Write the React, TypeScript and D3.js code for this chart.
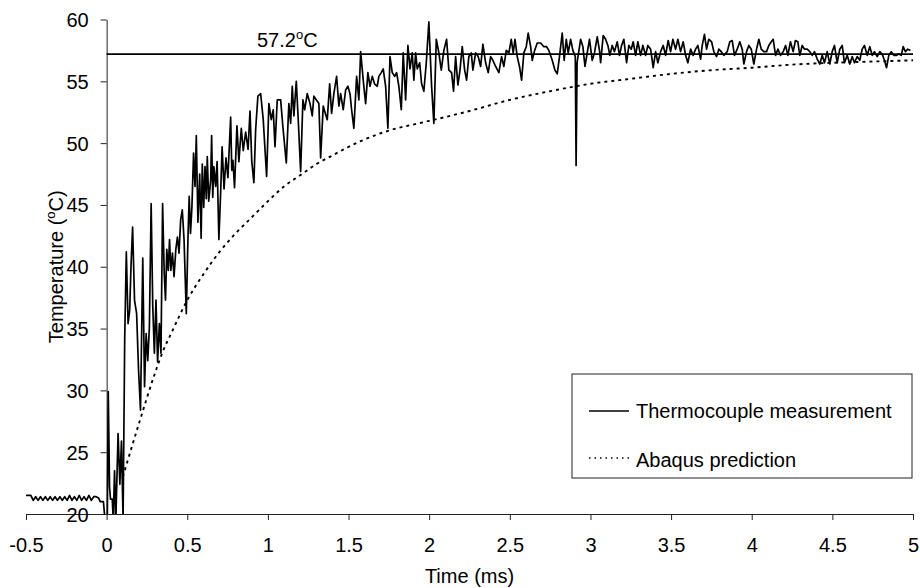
import React, { useEffect, useRef } from 'react'
import * as d3 from 'd3'

const xTicks = [-0.5, 0, 0.5, 1, 1.5, 2, 2.5, 3, 3.5, 4, 4.5, 5]
const yTicks = [20, 25, 30, 35, 40, 45, 50, 55, 60]
const steadyTemp = 57.2
const seriesNames = ['Thermocouple measurement', 'Abaqus prediction']

// [time (ms), temperature (C)]
const thermocouple: [number, number][] = [
  [-0.5, 21.5], [-0.47, 21.5], [-0.455, 21.1], [-0.44, 21.4], [-0.425, 21.1], [-0.41, 21.4],
  [-0.395, 21.1], [-0.38, 21.4], [-0.365, 21.1], [-0.35, 21.4], [-0.335, 21.1], [-0.32, 21.4],
  [-0.305, 21.1], [-0.29, 21.4], [-0.275, 21.1], [-0.26, 21.4], [-0.245, 21.1], [-0.23, 21.5],
  [-0.215, 21.1], [-0.2, 21.4], [-0.185, 21.1], [-0.17, 21.5], [-0.155, 21.1], [-0.14, 21.4],
  [-0.125, 21.1], [-0.11, 21.5], [-0.095, 21.1], [-0.08, 21.4], [-0.065, 21.4], [-0.05, 21.3],
  [-0.04, 21.0], [-0.02, 21.0], [-0.01, 19.5], [0.004, 19.5], [0.010, 29.9], [0.018, 22.2],
  [0.024, 21.2], [0.035, 21.2], [0.041, 19.5], [0.049, 23.5], [0.057, 19.5], [0.071, 26.5],
  [0.082, 22.4], [0.092, 25.9], [0.102, 19.5], [0.112, 34.1], [0.122, 41.2], [0.133, 35.4],
  [0.143, 36.5], [0.151, 40.0], [0.161, 43.2], [0.173, 37.3], [0.186, 36.2], [0.198, 31.6],
  [0.210, 28.4], [0.224, 40.7], [0.235, 30.3], [0.245, 34.6], [0.255, 32.4], [0.265, 35.1],
  [0.276, 45.1], [0.286, 36.8], [0.296, 33.0], [0.306, 37.3], [0.316, 32.3], [0.327, 35.4],
  [0.337, 33.0], [0.347, 45.1], [0.357, 39.5], [0.365, 37.3], [0.373, 41.4], [0.382, 39.7],
  [0.390, 42.2], [0.398, 39.7], [0.408, 41.1], [0.418, 39.2], [0.429, 41.4], [0.439, 42.4],
  [0.449, 41.1], [0.459, 43.8], [0.469, 44.6], [0.480, 42.2], [0.494, 36.2], [0.504, 42.2],
  [0.512, 45.7], [0.520, 42.7], [0.529, 44.9], [0.539, 49.2], [0.548, 46.5], [0.556, 50.6],
  [0.566, 43.6], [0.577, 47.5], [0.586, 42.3], [0.593, 48.3], [0.602, 44.8], [0.610, 48.1],
  [0.618, 45.5], [0.624, 48.9], [0.633, 45.3], [0.645, 47.0], [0.651, 50.6], [0.658, 45.6],
  [0.665, 48.1], [0.676, 46.5], [0.685, 48.5], [0.696, 42.2], [0.707, 46.0], [0.716, 49.7],
  [0.728, 46.3], [0.740, 48.8], [0.752, 47.2], [0.769, 52.1], [0.776, 47.8], [0.783, 48.6],
  [0.793, 46.4], [0.808, 51.4], [0.820, 48.5], [0.835, 51.2], [0.847, 49.4], [0.862, 50.9],
  [0.877, 49.5], [0.889, 52.6], [0.900, 48.5], [0.913, 46.8], [0.924, 51.1], [0.938, 53.8],
  [0.955, 54.0], [0.971, 51.9], [0.992, 47.3], [1.006, 53.2], [1.021, 51.9], [1.033, 52.7],
  [1.044, 49.7], [1.058, 53.5], [1.079, 53.5], [1.093, 51.3], [1.114, 48.4], [1.130, 53.2],
  [1.141, 51.6], [1.151, 54.6], [1.161, 52.2], [1.176, 55.0], [1.188, 51.9], [1.203, 47.7],
  [1.217, 53.5], [1.228, 52.7], [1.244, 54.0], [1.261, 53.2], [1.275, 52.2], [1.285, 53.8],
  [1.300, 53.5], [1.316, 53.2], [1.327, 48.8], [1.343, 53.0], [1.356, 52.4], [1.368, 51.9],
  [1.383, 54.8], [1.395, 52.4], [1.409, 54.0], [1.426, 55.4], [1.440, 53.0], [1.451, 54.0],
  [1.467, 52.7], [1.482, 54.3], [1.496, 54.6], [1.509, 54.0], [1.519, 52.7], [1.533, 51.2],
  [1.550, 55.4], [1.564, 53.5], [1.575, 57.4], [1.591, 55.1], [1.606, 53.2], [1.620, 55.7],
  [1.633, 54.6], [1.647, 55.4], [1.661, 54.8], [1.678, 54.6], [1.688, 55.4], [1.703, 55.7],
  [1.715, 56.0], [1.730, 54.6], [1.744, 51.2], [1.757, 57.0], [1.771, 55.7], [1.786, 55.4],
  [1.798, 55.7], [1.812, 54.6], [1.827, 52.7], [1.839, 57.3], [1.854, 53.5], [1.868, 57.9],
  [1.881, 56.0], [1.895, 57.3], [1.905, 55.1], [1.916, 57.3], [1.926, 56.0], [1.941, 56.5],
  [1.953, 54.8], [1.967, 54.2], [1.982, 56.5], [1.998, 59.8], [2.015, 54.6], [2.029, 51.6],
  [2.044, 58.4], [2.060, 57.3], [2.075, 55.9], [2.091, 57.5], [2.108, 58.4], [2.122, 55.9],
  [2.139, 55.7], [2.151, 54.2], [2.164, 57.0], [2.178, 54.7], [2.191, 55.9], [2.205, 57.8],
  [2.220, 55.9], [2.232, 55.1], [2.246, 57.0], [2.261, 57.3], [2.271, 55.9], [2.288, 57.3],
  [2.304, 57.0], [2.319, 56.2], [2.333, 58.0], [2.350, 56.5], [2.366, 55.7], [2.381, 57.0],
  [2.395, 56.7], [2.412, 56.2], [2.432, 55.7], [2.449, 57.0], [2.463, 56.2], [2.478, 57.5],
  [2.494, 57.3], [2.509, 58.4], [2.521, 57.3], [2.532, 58.4], [2.546, 57.0], [2.560, 56.2],
  [2.573, 55.1], [2.587, 57.3], [2.602, 57.8], [2.614, 58.9], [2.629, 57.8], [2.639, 56.7],
  [2.654, 57.5], [2.670, 58.1], [2.691, 58.1], [2.711, 57.8], [2.728, 57.8], [2.742, 57.5],
  [2.763, 56.7], [2.780, 55.9], [2.794, 55.6], [2.808, 57.0], [2.825, 58.9], [2.837, 56.7],
  [2.850, 58.4], [2.862, 57.3], [2.877, 58.4], [2.891, 57.5], [2.906, 57.0], [2.911, 48.2],
  [2.917, 56.5], [2.939, 58.4], [2.953, 57.8], [2.966, 56.2], [2.980, 57.3], [2.994, 58.4],
  [3.011, 56.7], [3.025, 57.3], [3.042, 58.6], [3.056, 57.5], [3.063, 56.5], [3.079, 58.7],
  [3.094, 58.4], [3.108, 57.9], [3.120, 57.1], [3.135, 57.9], [3.149, 57.4], [3.166, 58.2],
  [3.180, 57.1], [3.193, 57.9], [3.207, 58.4], [3.224, 56.5], [3.238, 57.9], [3.253, 57.6],
  [3.265, 58.2], [3.280, 57.1], [3.294, 58.2], [3.311, 57.1], [3.325, 57.9], [3.342, 57.1],
  [3.356, 57.9], [3.373, 57.6], [3.389, 56.1], [3.404, 57.4], [3.418, 56.5], [3.435, 57.4],
  [3.451, 57.9], [3.466, 57.1], [3.482, 58.3], [3.497, 57.4], [3.511, 58.4], [3.528, 57.6],
  [3.542, 58.4], [3.559, 57.4], [3.575, 58.2], [3.590, 57.1], [3.604, 56.5], [3.621, 57.6],
  [3.637, 57.1], [3.652, 57.6], [3.666, 57.9], [3.683, 56.8], [3.693, 57.9], [3.707, 58.8],
  [3.720, 57.6], [3.734, 58.4], [3.751, 58.2], [3.765, 57.4], [3.782, 57.0], [3.796, 57.6],
  [3.811, 57.4], [3.827, 57.1], [3.848, 57.4], [3.864, 58.2], [3.879, 58.3], [3.893, 57.1],
  [3.910, 57.6], [3.926, 58.2], [3.941, 57.6], [3.951, 56.4], [3.968, 57.4], [3.982, 57.9],
  [3.997, 57.6], [4.013, 56.4], [4.030, 57.6], [4.044, 58.4], [4.059, 57.6], [4.075, 57.4],
  [4.092, 57.4], [4.106, 57.9], [4.121, 58.2], [4.133, 58.4], [4.148, 57.1], [4.162, 57.6],
  [4.179, 57.1], [4.195, 57.4], [4.210, 57.9], [4.224, 57.1], [4.240, 58.2], [4.257, 57.4],
  [4.271, 58.3], [4.286, 58.2], [4.298, 57.1], [4.313, 57.9], [4.327, 57.6], [4.344, 57.6],
  [4.360, 57.4], [4.375, 57.1], [4.389, 57.4], [4.406, 56.8], [4.422, 56.4], [4.437, 57.1],
  [4.451, 56.5], [4.468, 57.4], [4.484, 56.4], [4.499, 57.4], [4.513, 57.9], [4.530, 56.5],
  [4.546, 57.6], [4.561, 57.9], [4.575, 56.5], [4.592, 57.1], [4.608, 56.4], [4.623, 57.0],
  [4.637, 56.5], [4.654, 57.0], [4.670, 56.7], [4.685, 57.6], [4.699, 57.9], [4.716, 57.1],
  [4.732, 57.8], [4.747, 57.1], [4.761, 57.4], [4.778, 57.0], [4.794, 57.4], [4.809, 57.2],
  [4.823, 56.7], [4.836, 56.1], [4.850, 57.1], [4.865, 57.4], [4.881, 57.1], [4.898, 57.1],
  [4.912, 57.2], [4.927, 57.1], [4.939, 57.8], [4.953, 57.4], [4.968, 57.6], [4.984, 57.5],
]

const abaqus: [number, number][] = [
  [0.1, 23.0], [0.2, 27.3], [0.3, 31.4], [0.35, 33.2], [0.4, 34.6], [0.5, 37.3], [0.6, 39.4],
  [0.7, 41.2], [0.8, 42.7], [0.9, 44.0], [1.0, 45.3], [1.1, 46.5], [1.2, 47.4], [1.3, 48.3],
  [1.4, 49.0], [1.5, 49.7], [1.6, 50.3], [1.7, 50.8], [1.8, 51.2], [1.9, 51.5], [2.0, 51.8],
  [2.25, 52.6], [2.5, 53.5], [2.75, 54.2], [3.0, 54.8], [3.25, 55.2], [3.5, 55.6], [3.75, 55.9],
  [4.0, 56.1], [4.25, 56.35], [4.5, 56.5], [4.75, 56.6], [5.0, 56.7],
]

const FONT = '"Liberation Sans", Arial, Helvetica, sans-serif'

function TempChart() {
  const ref = useRef<SVGSVGElement>(null)

  useEffect(() => {
    const svg = d3.select(ref.current)
    svg.selectAll('*').remove()

    const x = d3.scaleLinear().domain([-0.5, 5]).range([26, 913])
    const y = d3.scaleLinear().domain([20, 60]).range([514, 19.5])

    svg.append('defs').append('clipPath').attr('id', 'plot-clip')
      .append('rect')
      .attr('x', x(-0.5)).attr('y', y(60))
      .attr('width', x(5) - x(-0.5)).attr('height', y(20) - y(60))

    // x axis along T = 20
    const xAxis = svg.append('g')
      .attr('transform', `translate(0,${y(20)})`)
      .call(d3.axisBottom(x).tickValues(xTicks).tickSize(6).tickSizeOuter(0)
        .tickFormat(d => String(d)))
    xAxis.selectAll('text').attr('y', 38).attr('dy', 0)

    // y axis at t = 0
    const yAxis = svg.append('g')
      .attr('transform', `translate(${x(0)},0)`)
      .call(d3.axisLeft(y).tickValues(yTicks).tickSize(6).tickSizeOuter(0))
    yAxis.selectAll('text').attr('x', -18).attr('dy', '0.35em')

    svg.selectAll('.domain, .tick line').attr('stroke', '#222').attr('stroke-width', 1)
    svg.selectAll('.tick text')
      .attr('font-family', FONT).attr('font-size', 20).attr('fill', '#000')

    const plot = svg.append('g').attr('clip-path', 'url(#plot-clip)')
    const line = d3.line<[number, number]>().x(d => x(d[0])).y(d => y(d[1]))

    plot.append('path')
      .datum(abaqus)
      .attr('d', line.curve(d3.curveMonotoneX))
      .attr('fill', 'none').attr('stroke', '#000')
      .attr('stroke-width', 1.9).attr('stroke-dasharray', '3,4')

    plot.append('line')
      .attr('x1', x(0)).attr('x2', x(5))
      .attr('y1', y(steadyTemp)).attr('y2', y(steadyTemp))
      .attr('stroke', '#000').attr('stroke-width', 1.7)

    plot.append('path')
      .datum(thermocouple)
      .attr('d', d3.line<[number, number]>().x(d => x(d[0])).y(d => y(d[1])))
      .attr('fill', 'none').attr('stroke', '#000')
      .attr('stroke-width', 1.7).attr('stroke-linejoin', 'round')

    const label = svg.append('text')
      .attr('x', 257).attr('y', 47)
      .attr('font-family', FONT).attr('font-size', 20).attr('fill', '#000')
    label.append('tspan').text(steadyTemp.toFixed(1))
    label.append('tspan').attr('font-size', 13).attr('dy', -8).text('o')
    label.append('tspan').attr('dy', 8).text('C')

    svg.append('text')
      .attr('x', (x(-0.5) + x(5)) / 2).attr('y', 583)
      .attr('text-anchor', 'middle')
      .attr('font-family', FONT).attr('font-size', 20).attr('fill', '#000')
      .text('Time (ms)')

    const yTitle = svg.append('text')
      .attr('transform', `translate(63,${(y(20) + y(60)) / 2}) rotate(-90)`)
      .attr('text-anchor', 'middle')
      .attr('font-family', FONT).attr('font-size', 20).attr('fill', '#000')
    yTitle.append('tspan').text('Temperature (')
    yTitle.append('tspan').attr('font-size', 13).attr('dy', -8).text('o')
    yTitle.append('tspan').attr('dy', 8).text('C)')

    // legend
    const legend = svg.append('g')
    legend.append('rect')
      .attr('x', 572).attr('y', 374).attr('width', 340).attr('height', 104)
      .attr('fill', 'white').attr('stroke', '#222').attr('stroke-width', 1)
    legend.append('line')
      .attr('x1', 589).attr('x2', 629).attr('y1', 411).attr('y2', 411)
      .attr('stroke', '#000').attr('stroke-width', 1.6)
    legend.append('line')
      .attr('x1', 589).attr('x2', 633).attr('y1', 458).attr('y2', 458)
      .attr('stroke', '#000').attr('stroke-width', 1.3).attr('stroke-dasharray', '1.5,4')
    legend.selectAll('text.item')
      .data(seriesNames)
      .enter().append('text')
      .attr('class', 'item')
      .attr('x', 636).attr('y', (_, i) => 418 + i * 49)
      .attr('font-family', FONT).attr('font-size', 20).attr('fill', '#000')
      .text(d => d)
  }, [])

  return <svg ref={ref} width={920} height={588} style={{ display: 'block', background: 'white' }} />
}

export default function App() {
  return (
    <div style={{ position: 'absolute', left: 0, top: 0 }}>
      <TempChart />
    </div>
  )
}
